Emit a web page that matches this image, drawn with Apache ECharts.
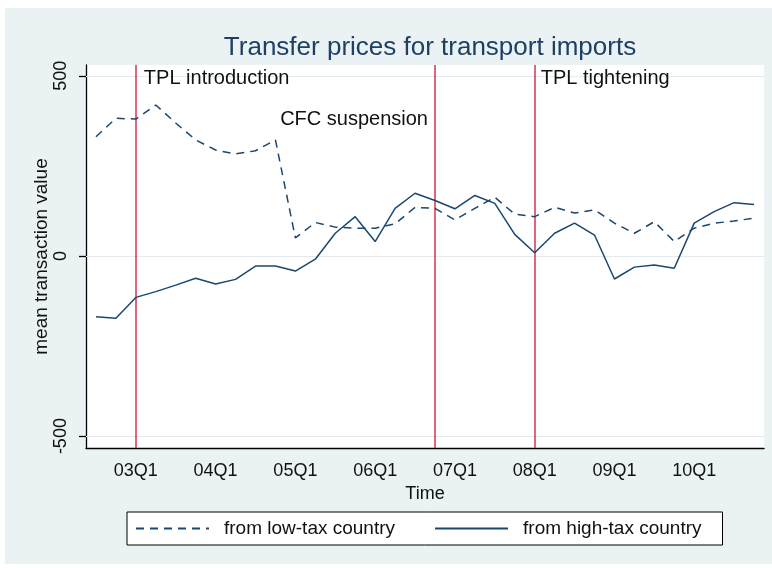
<!DOCTYPE html>
<html>
<head>
<meta charset="utf-8">
<script src="https://cdn.jsdelivr.net/npm/echarts@6/dist/echarts.min.js"></script>
<style>html,body{margin:0;padding:0;background:#fff}#c{width:772px;height:568px}</style>
</head>
<body>
<div id="c"></div>
<script>
const quarters = ['02Q3','02Q4',
  '03Q1','03Q2','03Q3','03Q4',
  '04Q1','04Q2','04Q3','04Q4',
  '05Q1','05Q2','05Q3','05Q4',
  '06Q1','06Q2','06Q3','06Q4',
  '07Q1','07Q2','07Q3','07Q4',
  '08Q1','08Q2','08Q3','08Q4',
  '09Q1','09Q2','09Q3','09Q4',
  '10Q1','10Q2','10Q3','10Q4'];
const lowTax = [331,382,
  380,419,369,322,
  294,283,292,322,
  50,93,80,77,
  77,89,135,132,
  100,132,163,116,
  109,135,119,128,
  91,63,95,40,
  77,91,97,105];
const highTax = [-169,-173,
  -115,-99,-81,-62,
  -78,-65,-28,-28,
  -42,-9,63,109,
  40,132,174,154,
  131,168,146,60,
  9,63,91,58,
  -64,-31,-25,-34,
  91,123,148,143];
const yTicks = [-500, 0, 500];
const eventQuarters = ['03Q1', '06Q4', '08Q1'];
const eventNames = ['TPL introduction', 'CFC suspension', 'TPL tightening'];
const seriesNames = ['from low-tax country', 'from high-tax country'];

const FONT = '"Liberation Sans", Arial, sans-serif';
const NAVY = '#1a476f';
const RED = '#d6304f';

const chart = echarts.init(document.getElementById('c'), null, {renderer: 'canvas'});
chart.setOption({
  backgroundColor: '#ffffff',
  animation: false,
  textStyle: {fontFamily: FONT},
  graphic: [{
    type: 'rect', z: -10, silent: true,
    shape: {x: 5, y: 8, width: 767, height: 556},
    style: {fill: '#eaf2f3'}
  }],
  title: {
    text: 'Transfer prices for transport imports',
    left: 425, textAlign: 'center', top: 30,
    textStyle: {fontFamily: FONT, fontSize: 26, fontWeight: 'normal', color: '#1e3f66'}
  },
  grid: {
    left: 86, right: 8, top: 65, bottom: 120,
    show: true, backgroundColor: '#ffffff', borderWidth: 0
  },
  legend: {
    data: seriesNames,
    left: 127, top: 512,
    orient: 'horizontal',
    backgroundColor: '#ffffff',
    borderColor: '#000000', borderWidth: 1,
    padding: [7, 21, 7, 8],
    itemWidth: 73, itemHeight: 14, itemGap: 39,
    itemStyle: {opacity: 0},
    textStyle: {fontFamily: FONT, fontSize: 19, color: '#111', padding: [0, 0, 0, 10]}
  },
  xAxis: {
    type: 'category',
    data: quarters,
    boundaryGap: true,
    name: 'Time', nameLocation: 'middle', nameGap: 36,
    nameTextStyle: {fontFamily: FONT, fontSize: 18, color: '#111'},
    axisLine: {onZero: false, lineStyle: {color: '#000', width: 1.3}},
    axisTick: {
      alignWithLabel: true, length: 6,
      interval: (i, v) => v.endsWith('Q1'),
      lineStyle: {color: '#000', width: 1.3}
    },
    axisLabel: {
      interval: (i, v) => v.endsWith('Q1'),
      margin: 14,
      fontFamily: FONT, fontSize: 18, color: '#111'
    },
    splitLine: {show: false}
  },
  yAxis: {
    type: 'value',
    min: -533, max: 530,
    name: 'mean transaction value', nameLocation: 'middle', nameGap: 35, nameRotate: 90,
    nameMoveOverlap: false,
    nameTextStyle: {fontFamily: FONT, fontSize: 19, color: '#111'},
    axisLine: {show: true, lineStyle: {color: '#000', width: 1.3}},
    axisTick: {show: true, length: 7, customValues: yTicks, lineStyle: {color: '#000', width: 1.3}},
    axisLabel: {
      customValues: yTicks, rotate: 90, margin: 16,
      fontFamily: FONT, fontSize: 18, color: '#111'
    },
    splitLine: {show: false}
  },
  series: [
    {
      name: seriesNames[0], type: 'line', data: lowTax,
      symbol: 'none', z: 3,
      lineStyle: {color: NAVY, width: 1.5, type: [8, 6]},
      itemStyle: {color: NAVY},
      markLine: {
        silent: true, symbol: 'none', z: 1,
        lineStyle: {color: '#e3ebee', width: 1.2, type: 'solid'},
        label: {show: false},
        data: yTicks.map(v => ({yAxis: v}))
      }
    },
    {
      name: seriesNames[1], type: 'line', data: highTax,
      symbol: 'none', z: 4,
      lineStyle: {color: NAVY, width: 1.5, type: 'solid'},
      itemStyle: {color: NAVY},
      markLine: {
        silent: true, symbol: 'none', z: 2,
        lineStyle: {color: RED, width: 1.5, type: 'solid'},
        label: {show: false},
        data: eventQuarters.map(q => ({xAxis: q}))
      },
      markPoint: {
        silent: true, symbol: 'circle', symbolSize: 0,
        label: {show: true, fontFamily: FONT, fontSize: 20, color: '#111'},
        data: [
          {coord: [eventQuarters[0], 492], value: eventNames[0],
            label: {position: 'right', distance: 8, formatter: eventNames[0]}},
          {coord: [eventQuarters[1], 378], value: eventNames[1],
            label: {position: 'left', distance: 7, formatter: eventNames[1]}},
          {coord: [eventQuarters[2], 492], value: eventNames[2],
            label: {position: 'right', distance: 6, formatter: eventNames[2]}}
        ]
      }
    }
  ]
});
</script>
</body>
</html>
